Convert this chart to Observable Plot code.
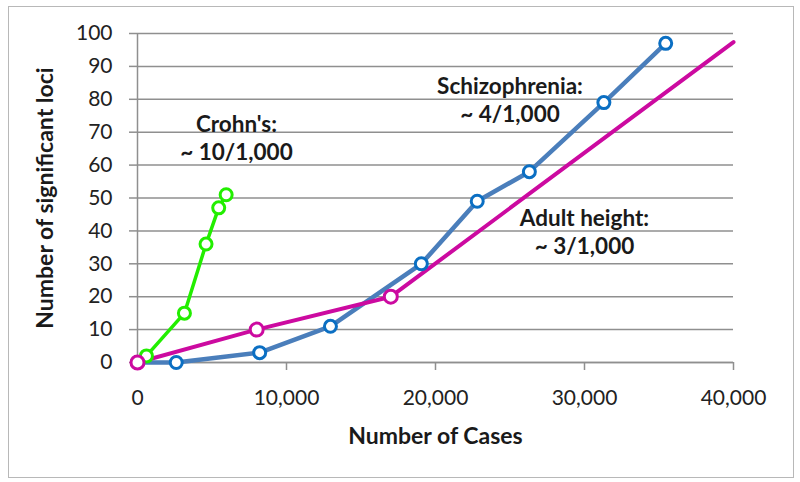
<!DOCTYPE html>
<html><head><meta charset="utf-8">
<script src="https://cdn.jsdelivr.net/npm/d3@7"></script>
<script src="https://cdn.jsdelivr.net/npm/@observablehq/plot@0.6"></script>
<style>
html,body{margin:0;padding:0;background:#fff;}
#wrap{position:relative;width:800px;height:482px;overflow:hidden;}
#border{position:absolute;left:8px;top:6px;width:786px;height:472px;border:1.5px solid #b8b8b8;box-sizing:border-box;pointer-events:none;}
#wrap svg{position:absolute;left:0;top:0;}
</style></head><body><div id="wrap"><div id="border"></div></div>
<script>
// Series data
const crohnsCases = [0, 600, 3150, 4600, 5450, 5950];
const crohnsLoci  = [0, 2, 15, 36, 47, 51];
const schizCases  = [0, 2600, 8200, 12950, 19050, 22800, 26300, 31300, 35450];
const schizLoci   = [0, 0, 3, 11, 30, 49, 58, 79, 97];
const heightCases = [0, 8000, 17000, 40000];
const heightLoci  = [0, 10, 20, 97.4];
const heightMarked = [true, true, true, false]; // last point runs off the chart, no marker

// Tick labels
const xTicks = [0, 10000, 20000, 30000, 40000];
const yTicks = [0, 10, 20, 30, 40, 50, 60, 70, 80, 90, 100];

// Annotations (data coordinates)
const noteText = ["Crohn's:\n~ 10/1,000", "Schizophrenia:\n~ 4/1,000", "Adult height:\n~ 3/1,000"];
const noteCases = [6640, 25000, 30000];
const noteLoci = [68.5, 80, 40];

const xTitle = "Number of Cases";
const yTitle = "Number of significant loci";

const colors = {crohns: "#22ee00", schizLine: "#4a7ebb", schizMark: "#0b6fc3", height: "#cc0aa0"};

const crohns = crohnsCases.map((x, i) => ({x, y: crohnsLoci[i]}));
const schiz = schizCases.map((x, i) => ({x, y: schizLoci[i]}));
const height = heightCases.map((x, i) => ({x, y: heightLoci[i], marked: heightMarked[i]}));
const notes = noteText.map((t, i) => ({t, x: noteCases[i], y: noteLoci[i]}));

const grid = "#8f8f8f";

const chart = Plot.plot({
  width: 800, height: 482,
  marginLeft: 137, marginRight: 67, marginTop: 33, marginBottom: 120,
  style: {fontFamily: "Lato, sans-serif", fontSize: "21px", color: "#222", background: "transparent", overflow: "visible"},
  x: {domain: [0, 40000]},
  y: {domain: [0, 100]},
  marks: [
    Plot.gridY(yTicks, {stroke: grid, strokeOpacity: 1, strokeWidth: 1.5}),
    Plot.axisY(yTicks, {tickSize: 8, tickPadding: 17, stroke: grid, strokeWidth: 1.5, label: null}),
    Plot.axisX(xTicks, {tickSize: 8, tickPadding: 20, stroke: grid, strokeWidth: 1.5, label: null, tickFormat: d3.format(",")}),
    Plot.ruleX([0], {stroke: grid, strokeWidth: 1.5}),
    Plot.ruleY([0], {stroke: grid, strokeWidth: 1.5}),
    Plot.line(crohns, {x: "x", y: "y", stroke: colors.crohns, strokeWidth: 3.5}),
    Plot.line(schiz, {x: "x", y: "y", stroke: colors.schizLine, strokeWidth: 4.5}),
    Plot.line(height, {x: "x", y: "y", stroke: colors.height, strokeWidth: 4}),
    Plot.dot(crohns, {x: "x", y: "y", r: 6, fill: "white", stroke: colors.crohns, strokeWidth: 3}),
    Plot.dot(schiz, {x: "x", y: "y", r: 6, fill: "white", stroke: colors.schizMark, strokeWidth: 3}),
    Plot.dot(height.filter(d => d.marked), {x: "x", y: "y", r: 6.5, fill: "white", stroke: colors.height, strokeWidth: 3}),
    Plot.text(notes, {x: "x", y: "y", text: "t", fontWeight: "bold", fontSize: 22.5, lineHeight: 1.25, fill: "#1a1a1a"}),
    Plot.text([xTitle], {frameAnchor: "bottom", dy: 74, lineAnchor: "middle", fontWeight: "bold", fontSize: 23, fill: "#1a1a1a"}),
    Plot.text([yTitle], {frameAnchor: "left", dx: -92, rotate: -90, textAnchor: "middle", lineAnchor: "middle", fontWeight: "bold", fontSize: 23, fill: "#1a1a1a"})
  ]
});
document.getElementById("wrap").appendChild(chart);
</script>
</body></html>
